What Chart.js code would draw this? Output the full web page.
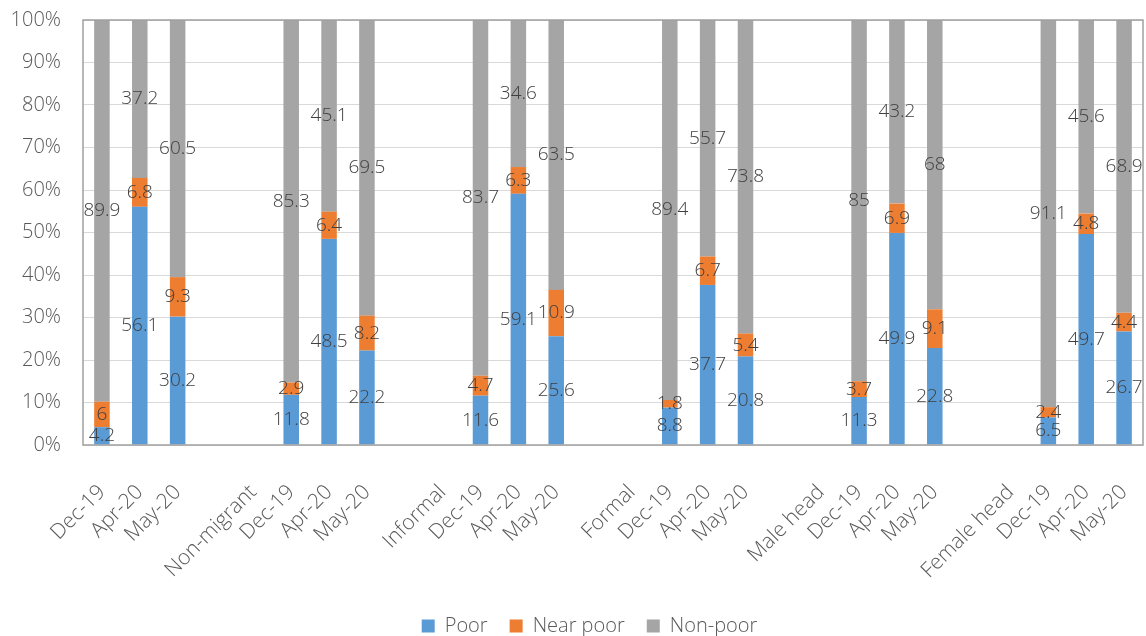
<!DOCTYPE html>
<html>
<head>
<meta charset="utf-8">
<script src="https://cdn.jsdelivr.net/npm/chart.js@4.4.1/dist/chart.umd.min.js"></script>
<style>
  html, body { margin: 0; padding: 0; background: #ffffff; }
  #wrap { width: 1146px; height: 636px; position: relative; }
</style>
</head>
<body>
<div id="wrap"><canvas id="c" width="1146" height="636"></canvas></div>
<script>
// Group slots: each block is label slot, Dec-19, Apr-20, May-20, spacer
const categories = [
  'Dec-19', 'Apr-20', 'May-20', '',
  'Non-migrant', 'Dec-19', 'Apr-20', 'May-20', '',
  'Informal', 'Dec-19', 'Apr-20', 'May-20', '',
  'Formal', 'Dec-19', 'Apr-20', 'May-20', '',
  'Male head', 'Dec-19', 'Apr-20', 'May-20', '',
  'Female head', 'Dec-19', 'Apr-20', 'May-20'
];

const poor = [
  4.2, 56.1, 30.2, null,
  null, 11.8, 48.5, 22.2, null,
  null, 11.6, 59.1, 25.6, null,
  null, 8.8, 37.7, 20.8, null,
  null, 11.3, 49.9, 22.8, null,
  null, 6.5, 49.7, 26.7
];

const nearPoor = [
  6, 6.8, 9.3, null,
  null, 2.9, 6.4, 8.2, null,
  null, 4.7, 6.3, 10.9, null,
  null, 1.8, 6.7, 5.4, null,
  null, 3.7, 6.9, 9.1, null,
  null, 2.4, 4.8, 4.4
];

const nonPoor = [
  89.9, 37.2, 60.5, null,
  null, 85.3, 45.1, 69.5, null,
  null, 83.7, 34.6, 63.5, null,
  null, 89.4, 55.7, 73.8, null,
  null, 85, 43.2, 68, null,
  null, 91.1, 45.6, 68.9
];

const yTicks = [0, 10, 20, 30, 40, 50, 60, 70, 80, 90, 100];

const seriesNames = ['Poor', 'Near poor', 'Non-poor'];
const seriesColors = ['#5B9BD5', '#ED7D31', '#A5A5A5'];
const rawSeries = [poor, nearPoor, nonPoor];

// 100% stacking: each column is scaled by its own total
const totals = categories.map((_, i) =>
  rawSeries.reduce((s, arr) => s + (arr[i] == null ? 0 : arr[i]), 0));
const toShare = arr => arr.map((v, i) => v == null ? null : v / totals[i] * 100);

const FONT = "'Open Sans', 'Segoe UI', 'DejaVu Sans', sans-serif";

// Frame around the plot area
const frame = {
  id: 'frame',
  afterDraw(chart) {
    const a = chart.chartArea, ctx = chart.ctx;
    ctx.save();
    ctx.strokeStyle = '#a0a0a0';
    ctx.lineWidth = 1.5;
    ctx.strokeRect(a.left, a.top, a.right - a.left, a.bottom - a.top);
    ctx.restore();
  }
};

// Legend sits slightly right of the canvas centre
const legendNudge = {
  id: 'legendNudge',
  afterLayout(chart) {
    if (chart.legend) {
      chart.legend.left += 18;
      chart.legend.right += 18;
    }
  }
};

// Value labels centred in every segment
const valueLabels = {
  id: 'valueLabels',
  afterDatasetsDraw(chart) {
    const ctx = chart.ctx;
    ctx.save();
    ctx.font = "300 19px " + FONT;
    ctx.fillStyle = '#404040';
    ctx.textAlign = 'center';
    ctx.textBaseline = 'middle';
    chart.data.datasets.forEach((ds, di) => {
      const meta = chart.getDatasetMeta(di);
      meta.data.forEach((el, i) => {
        const v = rawSeries[di][i];
        if (v == null) return;
        const p = el.getProps(['x', 'y', 'base'], true);
        ctx.fillText(String(v), p.x, (p.y + p.base) / 2);
      });
    });
    ctx.restore();
  }
};

new Chart(document.getElementById('c'), {
  type: 'bar',
  data: {
    labels: categories,
    datasets: rawSeries.map((arr, k) => ({
      label: seriesNames[k],
      data: toShare(arr),
      backgroundColor: seriesColors[k],
      borderWidth: 0,
      categoryPercentage: 1,
      barPercentage: 0.41
    }))
  },
  options: {
    responsive: false,
    animation: false,
    devicePixelRatio: 1,
    layout: { padding: { top: 20, right: 3, left: 0, bottom: -10 } },
    plugins: {
      tooltip: { enabled: false },
      legend: {
        position: 'bottom',
        labels: {
          boxWidth: 13,
          boxHeight: 13,
          padding: 22,
          color: '#595959',
          font: { family: FONT, size: 20, weight: 300 }
        }
      }
    },
    scales: {
      x: {
        stacked: true,
        grid: { display: false },
        border: { display: false },
        ticks: {
          autoSkip: false,
          maxRotation: 45,
          minRotation: 45,
          padding: 27,
          color: '#595959',
          font: { family: FONT, size: 21, weight: 300 }
        },
        afterFit(scale) {
          const lg = scale.chart.legend;
          scale.height = 636 + 10 - 445 - (lg ? lg.height : 0);
          scale.paddingLeft = 0;
          scale.paddingRight = 0;
        }
      },
      y: {
        stacked: true,
        min: 0,
        max: 100,
        afterBuildTicks(scale) {
          scale.ticks = yTicks.map(v => ({ value: v }));
        },
        grid: { color: '#d9d9d9', lineWidth: 1, drawTicks: false },
        border: { display: false },
        ticks: {
          padding: 22,
          color: '#595959',
          font: { family: FONT, size: 20, weight: 300 },
          callback: v => v + '%'
        },
        afterFit(scale) {
          scale.width = 83;
          scale.paddingTop = 0;
          scale.paddingBottom = 0;
        }
      }
    }
  },
  plugins: [frame, legendNudge, valueLabels]
});
</script>
</body>
</html>
